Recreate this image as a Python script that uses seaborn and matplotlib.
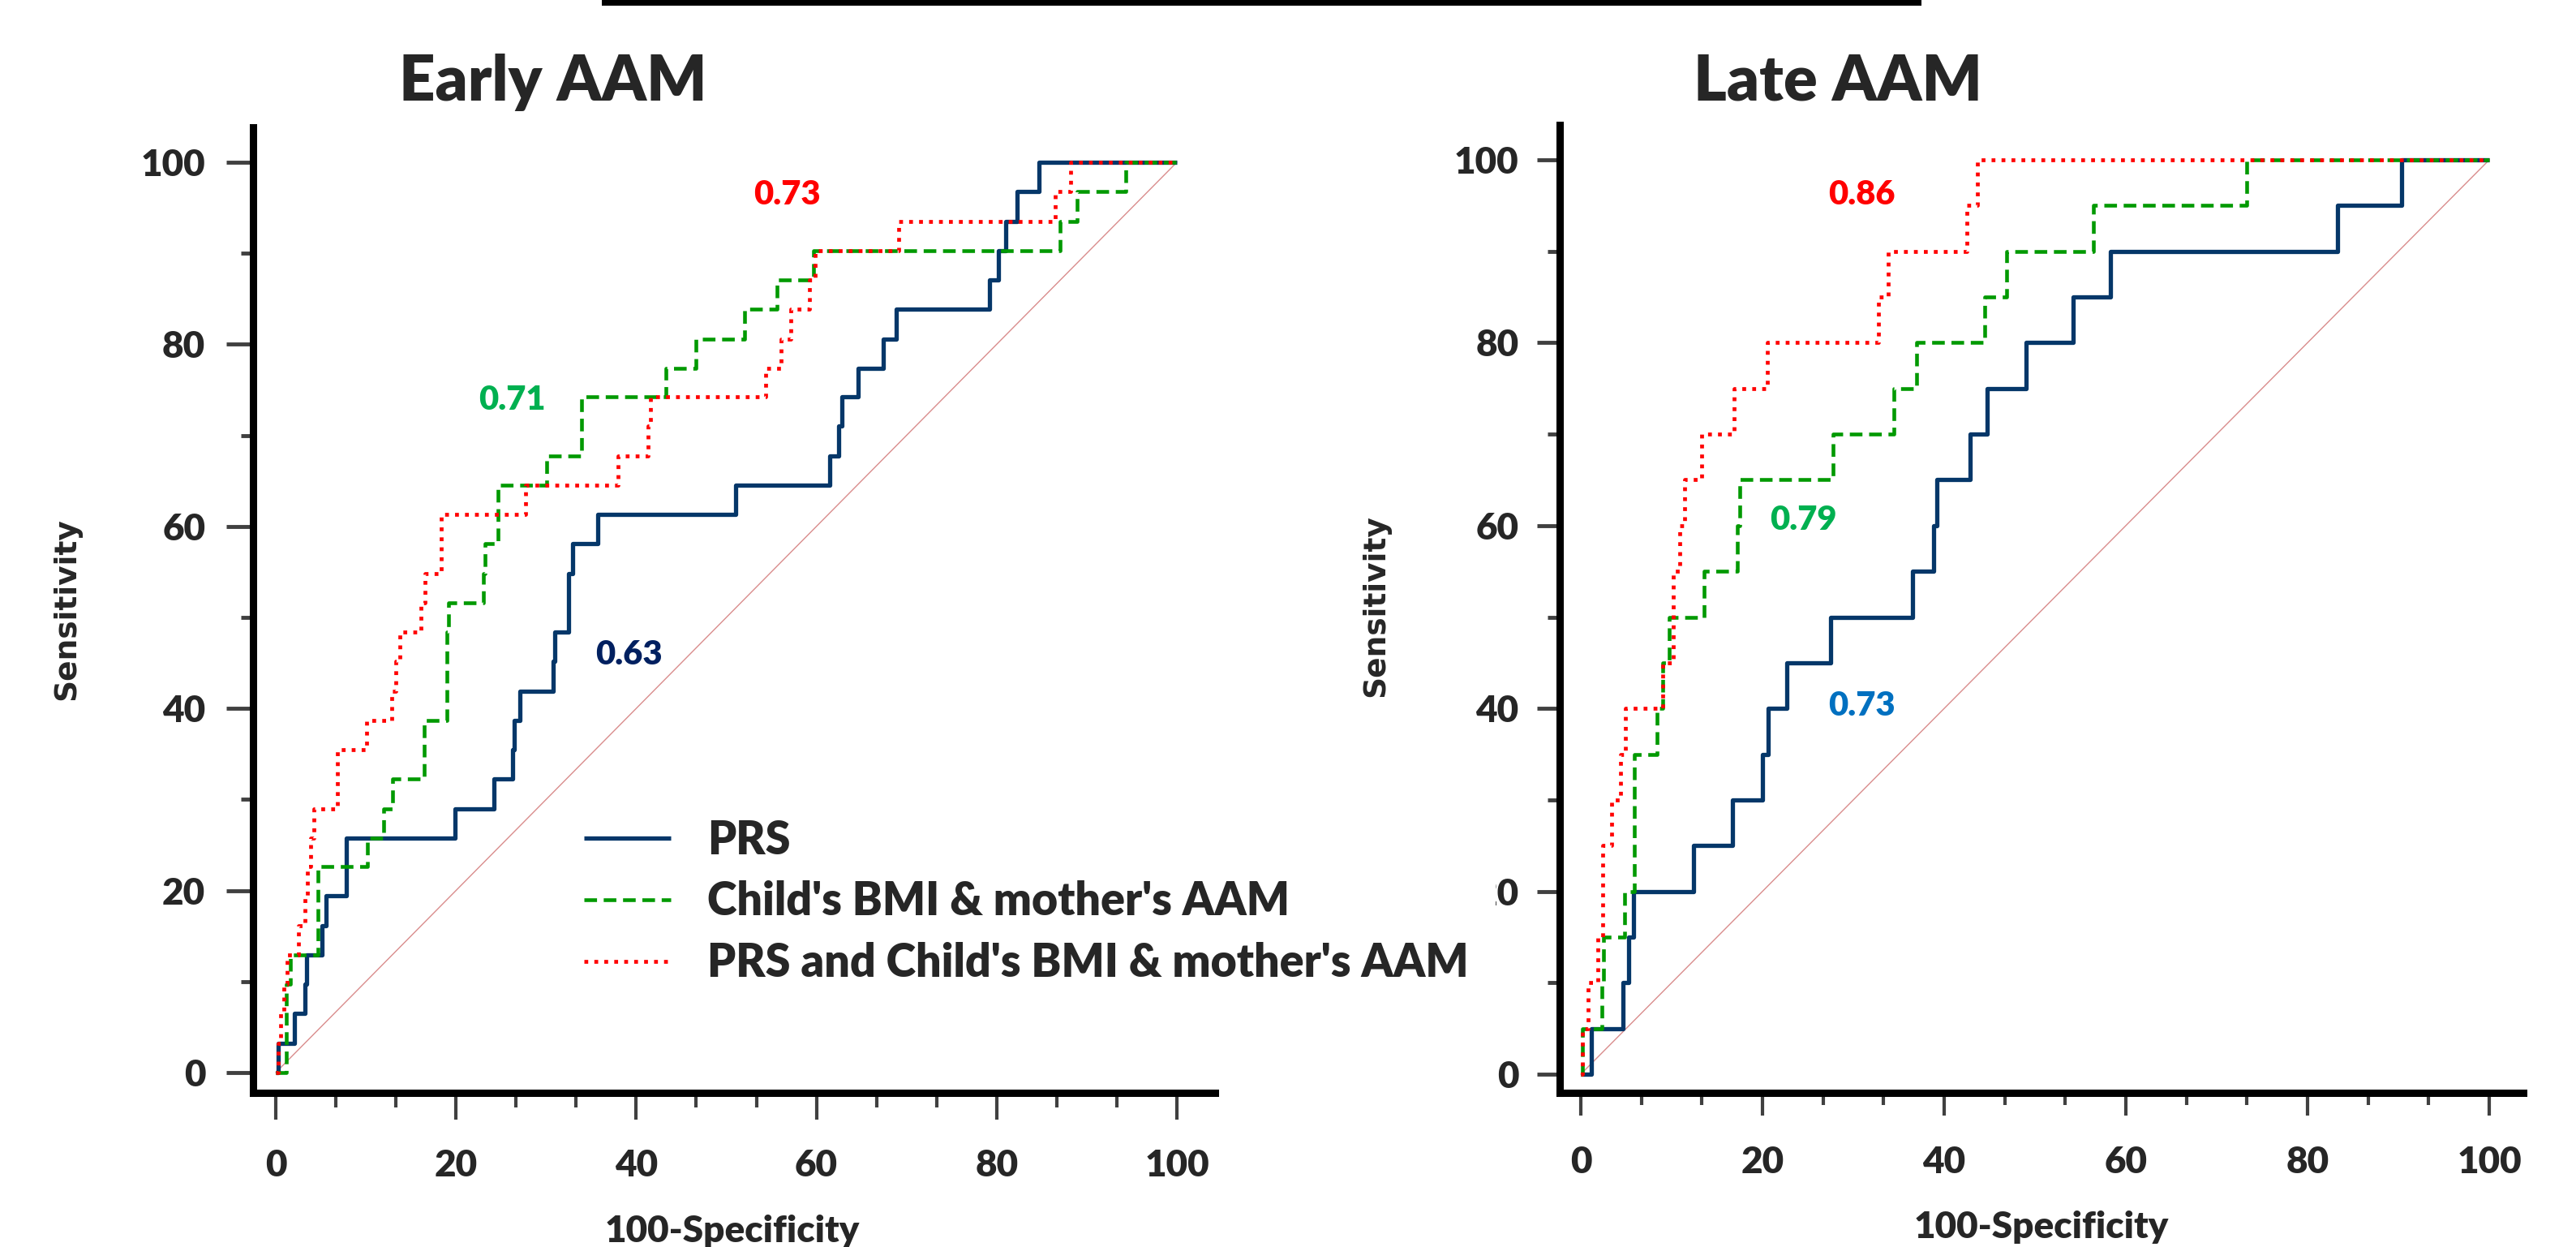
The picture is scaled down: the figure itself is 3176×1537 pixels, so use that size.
import matplotlib
matplotlib.use("Agg")
import numpy as np
import pandas as pd
import seaborn as sns
import matplotlib.pyplot as plt
from matplotlib.ticker import FixedLocator
from matplotlib.patches import Rectangle

# ---------------- data (100-Specificity, Sensitivity), step vertices ----------------
early_prs_x = [0, 0.3, 2.1, 3.2, 3.4, 5.1, 5.6, 7.8, 19.9, 24.2, 26.3, 26.5, 27.1, 30.8, 31.0,
               32.5, 32.9, 35.7, 51.0, 61.5, 62.5, 62.8, 64.6, 67.4, 68.9, 79.2, 80.2, 81.0,
               82.3, 84.7, 100]
early_prs_y = [0, 3.2, 6.5, 9.7, 12.9, 16.1, 19.4, 25.8, 29.0, 32.3, 35.5, 38.7, 41.9, 45.2, 48.4,
               54.8, 58.1, 61.3, 64.5, 67.7, 71.0, 74.2, 77.4, 80.6, 83.9, 87.1, 90.3, 93.5,
               96.8, 100, 100]

early_clin_x = [0, 1.2, 1.6, 4.7, 10.2, 12.0, 13.0, 16.5, 19.0, 19.2, 23.0, 23.2, 24.7, 30.1,
                33.9, 43.3, 46.6, 52.0, 55.6, 59.7, 87.0, 88.9, 94.3, 100]
early_clin_y = [0, 9.7, 12.9, 22.6, 25.8, 29.0, 32.3, 38.7, 48.4, 51.6, 54.8, 58.1, 64.5, 67.7,
                74.2, 77.4, 80.6, 83.9, 87.1, 90.3, 93.5, 96.8, 100, 100]

early_comb_x = [0, 0.3, 0.5, 0.9, 1.3, 2.5, 3.2, 3.5, 3.9, 4.2, 6.8, 10.1, 12.9, 13.3, 13.8,
                16.1, 16.6, 18.4, 27.7, 38.0, 41.3, 41.6, 54.4, 56.1, 57.2, 59.2, 59.9, 69.1,
                86.5, 88.2, 100]
early_comb_y = [0, 3.2, 6.5, 9.7, 12.9, 16.1, 19.4, 22.6, 25.8, 29.0, 35.5, 38.7, 41.9, 45.2, 48.4,
                51.6, 54.8, 61.3, 64.5, 67.7, 71.0, 74.2, 77.4, 80.6, 83.9, 87.1, 90.3, 93.5,
                96.8, 100, 100]

late_prs_x = [0, 1.2, 4.6, 5.3, 5.8, 12.4, 16.7, 20.0, 20.6, 22.7, 27.5, 36.5, 38.8, 39.2, 42.9,
              44.7, 49.0, 54.2, 58.3, 83.3, 90.4, 100]
late_prs_y = [0, 5, 10, 15, 20, 25, 30, 35, 40, 45, 50, 55, 60, 65, 70, 75, 80, 85, 90, 95, 100, 100]

late_clin_x = [0, 0.2, 2.3, 2.5, 4.8, 5.9, 8.4, 9.0, 9.7, 13.6, 17.2, 17.5, 27.8, 34.5, 37.0,
               44.5, 46.9, 56.4, 73.3, 100]
late_clin_y = [0, 5, 10, 15, 20, 35, 40, 45, 50, 55, 60, 65, 70, 75, 80, 85, 90, 95, 100, 100]

late_comb_x = [0, 0.2, 0.8, 1.9, 2.4, 3.4, 4.4, 4.9, 9.0, 10.2, 10.9, 11.4, 13.3, 16.9, 20.5,
               32.8, 33.8, 42.5, 43.7, 100]
late_comb_y = [0, 5, 10, 15, 25, 30, 35, 40, 45, 55, 60, 65, 70, 75, 80, 85, 90, 95, 100, 100]

series_labels = ["PRS", "Child's BMI & mother's AAM", "PRS and Child's BMI & mother's AAM"]
panel_titles = ["Early AAM", "Late AAM"]
early_auc = ["0.63", "0.71", "0.73"]
late_auc = ["0.73", "0.79", "0.86"]
x_ticks = [0, 20, 40, 60, 80, 100]
y_ticks = [0, 20, 40, 60, 80, 100]

# ---------------- styling ----------------
sns.set_theme(style="ticks")
plt.rcParams["font.family"] = ["Lato", "DejaVu Sans"]
plt.rcParams["font.weight"] = "heavy"
WT = "heavy"

NAVY = "#053769"
GREEN = "#009900"
RED = "#FF0000"

fig = plt.figure(figsize=(31.76, 15.37), dpi=100, facecolor="white")
W, H = 3176.0, 1537.0


def fx(px):
    return px / W


def fy(py):
    return 1 - py / H


ax1 = fig.add_axes([fx(311.5), fy(1347), (1498 - 311.5) / W, (1347 - 157) / H])
ax2 = fig.add_axes([fx(1922.5), fy(1347), (3111 - 1922.5) / W, (1347 - 154) / H])


def draw_panel(ax, curves, xlim, ylim, aucs, auc_pos, auc_cols, tick_len, minor_len, xpad, ypad):
    # chance line
    sns.lineplot(x=[0, 100], y=[0, 100], ax=ax, color="#D98C8C", linewidth=1.0,
                 estimator=None, sort=False, legend=False)
    styles = [
        dict(color=NAVY, linewidth=3.8, dashes=None),
        dict(color=GREEN, linewidth=3.3, dashes=(3.4, 1.8)),
        dict(color=RED, linewidth=3.4, dashes=(1.0, 1.6)),
    ]
    for (xs, ys), st, lab in zip(curves, styles, series_labels):
        df = pd.DataFrame({"fpr": xs, "tpr": ys})
        sns.lineplot(data=df, x="fpr", y="tpr", ax=ax, color=st["color"],
                     linewidth=st["linewidth"], estimator=None, sort=False,
                     drawstyle="steps-post", legend=False)
        ln = ax.lines[-1]
        ln.set_label(lab)
        ln.set_solid_capstyle("butt")
        ln.set_dash_capstyle("butt")
        if st["dashes"] is not None:
            ln.set_dashes(st["dashes"])
    for txt, (x, y), c in zip(aucs, auc_pos, auc_cols):
        ax.text(x, y, txt, color=c, fontsize=30, fontweight=WT, ha="center", va="baseline")

    ax.set_xlim(*xlim)
    ax.set_ylim(*ylim)
    ax.set_xlabel("")
    ax.set_ylabel("")
    for s in ["top", "right"]:
        ax.spines[s].set_visible(False)
    for s in ["left", "bottom"]:
        ax.spines[s].set_linewidth(6.5)
        ax.spines[s].set_color("black")
        ax.spines[s].set_capstyle("projecting")
    ax.set_xticks(x_ticks)
    ax.set_yticks(y_ticks)
    ax.xaxis.set_minor_locator(FixedLocator([20 / 3 * k for k in range(16) if k % 3]))
    ax.yaxis.set_minor_locator(FixedLocator([10, 30, 50, 70, 90]))
    ax.tick_params(axis="x", which="major", direction="out", length=tick_len[0], width=3,
                   color="#404040", pad=xpad, labelsize=33, bottom=True)
    ax.tick_params(axis="x", which="minor", direction="out", length=minor_len[0], width=3,
                   color="#404040", bottom=True)
    ax.tick_params(axis="y", which="major", direction="out", length=tick_len[1], width=3.5,
                   color="#404040", pad=ypad, labelsize=33, left=True)
    ax.tick_params(axis="y", which="minor", direction="out", length=minor_len[1], width=3.5,
                   color="#404040", left=True)
    for lbl in ax.get_xticklabels() + ax.get_yticklabels():
        lbl.set_fontweight(WT)
    ax.set_facecolor("white")


draw_panel(ax1,
           [(early_prs_x, early_prs_y), (early_clin_x, early_clin_y), (early_comb_x, early_comb_y)],
           xlim=(-2.565, 104.23), ylim=(-2.228, 103.83),
           aucs=early_auc, auc_pos=[(39.2, 44.8), (26.2, 72.8), (56.7, 95.4)],
           auc_cols=["#002060", "#00B050", RED],
           tick_len=(24, 24), minor_len=(13, 11), xpad=26, ypad=18)
draw_panel(ax2,
           [(late_prs_x, late_prs_y), (late_clin_x, late_clin_y), (late_comb_x, late_comb_y)],
           xlim=(-2.366, 103.75), ylim=(-2.04, 103.82),
           aucs=late_auc, auc_pos=[(30.9, 39.2), (24.5, 59.5), (30.9, 95.1)],
           auc_cols=["#0070C0", "#00B050", RED],
           tick_len=(20, 20), minor_len=(11, 11), xpad=27, ypad=16)

# titles
fig.text(fx(682), fy(124), panel_titles[0], fontsize=56, fontweight=WT, ha="center", va="baseline")
fig.text(fx(2266), fy(124), panel_titles[1], fontsize=56, fontweight=WT, ha="center", va="baseline")

# axis labels
for xc, yc in [(82, 751), (1696, 747)]:
    fig.text(fx(xc), fy(yc), "Sensitivity", rotation=90, ha="center", va="center",
             fontsize=27, fontweight="bold", family="DejaVu Sans")
fig.text(fx(903), fy(1531), "100-Specificity", fontsize=33, fontweight=WT, ha="center", va="baseline")
fig.text(fx(2517), fy(1526), "100-Specificity", fontsize=33, fontweight=WT, ha="center", va="baseline")

# legend (white box overlaps the right panel's "20" label, as in the source)
handles = ax1.lines[1:4]
fs_leg = 40
em = fs_leg * 100 / 72.0
pad = 0.6
fig.legend(handles, series_labels, loc="upper left",
           bbox_to_anchor=(fx(719.5 - pad * em), fy(1036 - 0.475 * em - pad * em)),
           frameon=True, facecolor="white", edgecolor="none", framealpha=1, fancybox=False,
           fontsize=fs_leg, handlelength=107 / em, handletextpad=46 / em,
           labelspacing=(76.5 - 0.95 * em) / em, borderpad=pad, borderaxespad=0,
           prop={"weight": WT, "size": fs_leg})

# black rule at the top
fig.add_artist(Rectangle((fx(742), fy(7)), (2369 - 742) / W, 7 / H, transform=fig.transFigure,
                         facecolor="black", edgecolor="none"))

fig.savefig("out.png", dpi=100, facecolor="white")
